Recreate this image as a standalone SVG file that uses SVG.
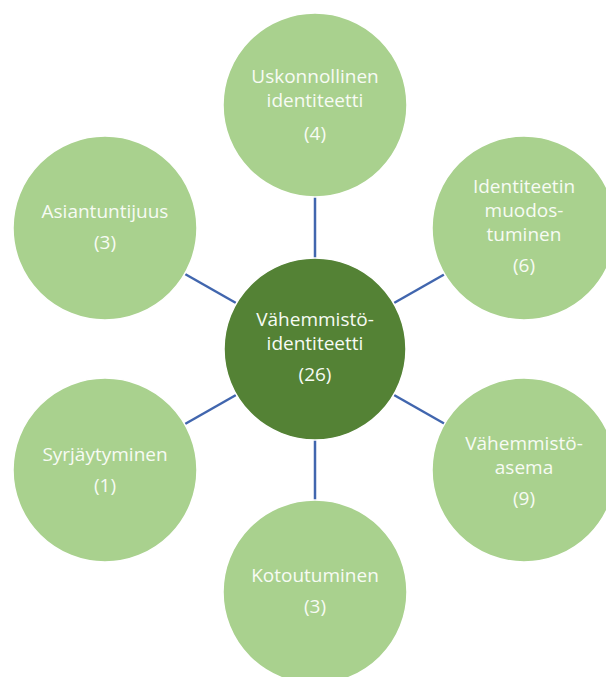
<svg xmlns="http://www.w3.org/2000/svg" width="606" height="677" viewBox="0 0 606 677">
  <style>
    .sat { fill: #A9D18E; stroke: #FFFFFF; stroke-width: 1.5; }
    .hub { fill: #548235; stroke: #FFFFFF; stroke-width: 1.5; }
    .lbl { font-family: "Open Sans", "Noto Sans", sans-serif; font-size: 19px; fill: #F7FBF4; text-anchor: middle; }
    .link { stroke: #4166AE; stroke-width: 2.5; fill: none; }
  </style>
  <rect width="606" height="677" fill="#FFFFFF"/>

  <!-- spokes between the hub and each outer circle -->
  <g id="connectors">
    <line class="link" x1="315" y1="197" x2="315" y2="258"/>
    <line class="link" x1="315" y1="440" x2="315" y2="500"/>
    <line class="link" x1="185" y1="274" x2="236" y2="303"/>
    <line class="link" x1="445" y1="274" x2="394" y2="303"/>
    <line class="link" x1="185" y1="424" x2="236" y2="395"/>
    <line class="link" x1="445" y1="424" x2="394" y2="395"/>
  </g>

  <g id="node-center">
    <circle class="hub" cx="315" cy="349" r="91"/>
    <text class="lbl" x="315" y="326">Vähemmistö-</text>
    <text class="lbl" x="315" y="350">identiteetti</text>
    <text class="lbl" x="315" y="381">(26)</text>
  </g>

  <g id="node-uskonnollinen">
    <circle class="sat" cx="315" cy="105" r="92"/>
    <text class="lbl" x="315" y="83">Uskonnollinen</text>
    <text class="lbl" x="315" y="107">identiteetti</text>
    <text class="lbl" x="315" y="140">(4)</text>
  </g>

  <g id="node-identiteetin">
    <circle class="sat" cx="524" cy="228" r="92"/>
    <text class="lbl" x="524" y="193">Identiteetin</text>
    <text class="lbl" x="524" y="217">muodos-</text>
    <text class="lbl" x="524" y="241">tuminen</text>
    <text class="lbl" x="524" y="272">(6)</text>
  </g>

  <g id="node-asema">
    <circle class="sat" cx="524" cy="470" r="92"/>
    <text class="lbl" x="524" y="450">Vähemmistö-</text>
    <text class="lbl" x="524" y="474">asema</text>
    <text class="lbl" x="524" y="505">(9)</text>
  </g>

  <g id="node-kotoutuminen">
    <circle class="sat" cx="315" cy="592" r="92"/>
    <text class="lbl" x="315" y="582">Kotoutuminen</text>
    <text class="lbl" x="315" y="613">(3)</text>
  </g>

  <g id="node-syrjaytyminen">
    <circle class="sat" cx="105" cy="470" r="92"/>
    <text class="lbl" x="105" y="461">Syrjäytyminen</text>
    <text class="lbl" x="105" y="492">(1)</text>
  </g>

  <g id="node-asiantuntijuus">
    <circle class="sat" cx="105" cy="228" r="92"/>
    <text class="lbl" x="105" y="218">Asiantuntijuus</text>
    <text class="lbl" x="105" y="249">(3)</text>
  </g>
</svg>
